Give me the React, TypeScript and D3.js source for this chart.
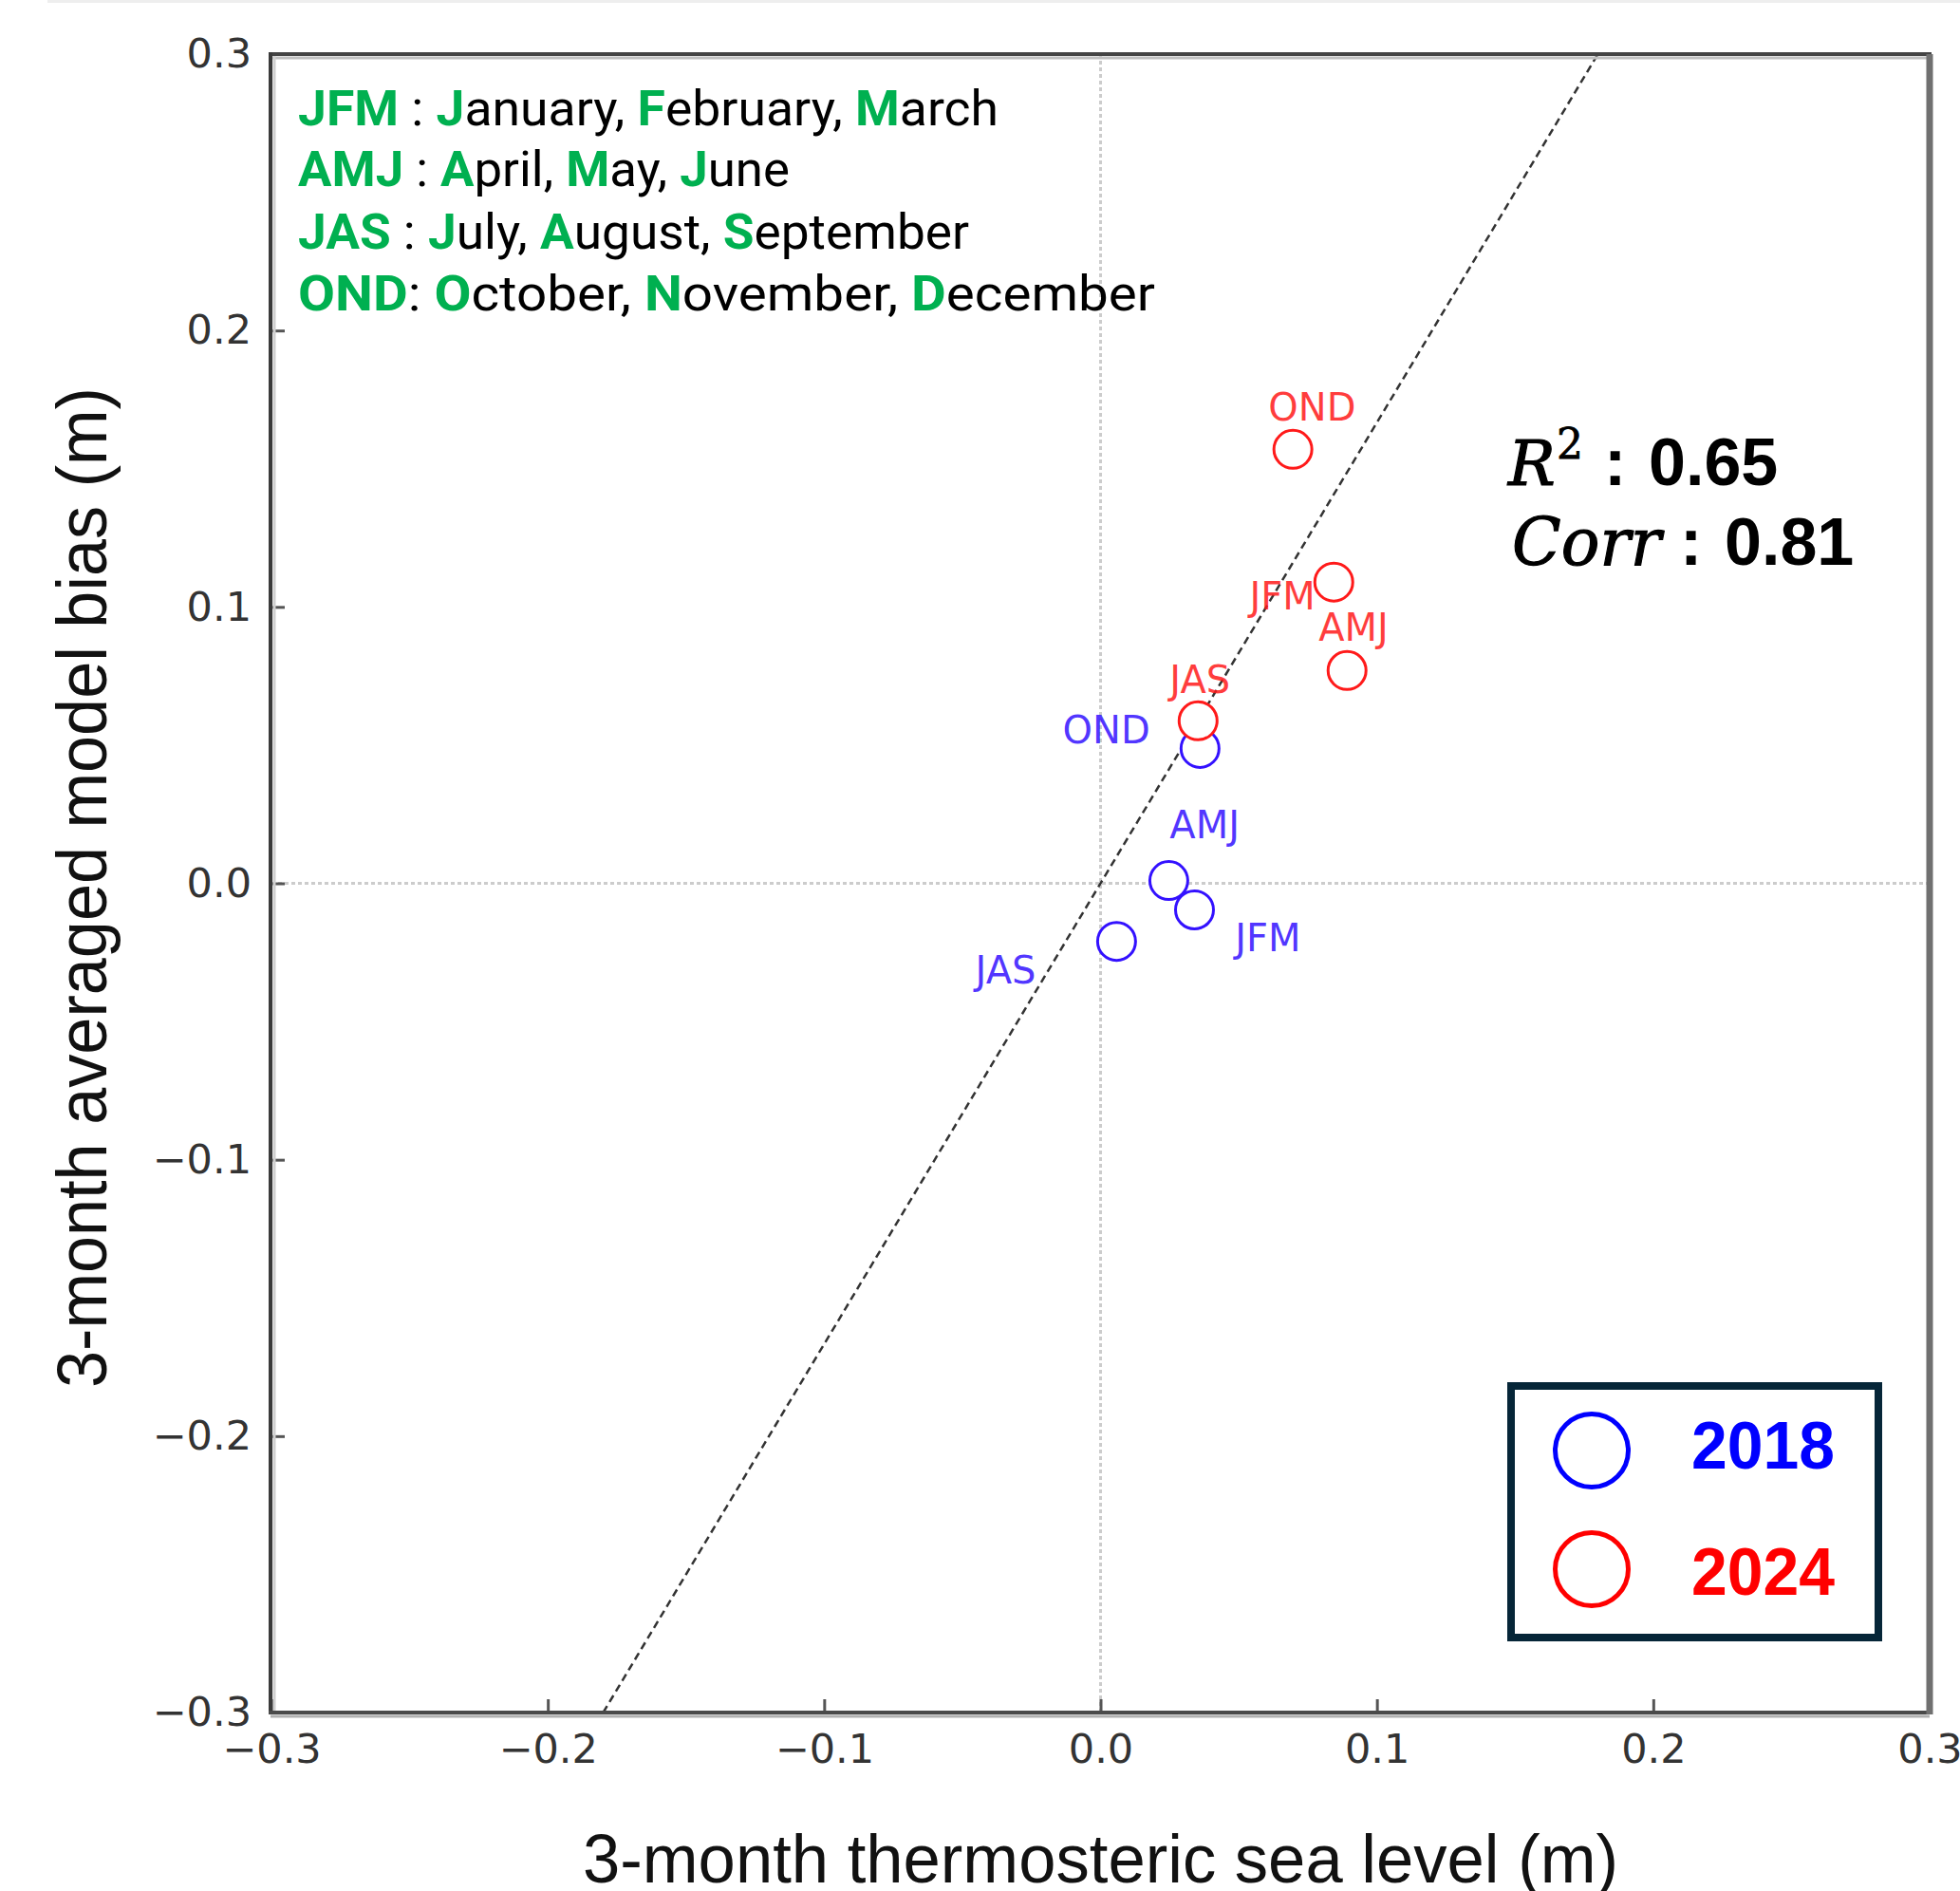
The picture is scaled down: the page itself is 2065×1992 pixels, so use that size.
import React, { useEffect, useRef } from "react";
import * as d3 from "d3";

const W = 2065;
const H = 1992;

const xTicks = [-0.3, -0.2, -0.1, 0.0, 0.1, 0.2, 0.3];
const yTicks = [-0.3, -0.2, -0.1, 0.0, 0.1, 0.2, 0.3];

const seasons = ["JFM", "AMJ", "JAS", "OND"];
// 2018
const thermo2018 = [0.034, 0.0247, 0.0058, 0.036];
const bias2018 = [-0.0096, 0.001, -0.021, 0.0488];
const labelX2018 = [0.0487, 0.025, -0.0453, -0.0137];
const labelY2018 = [-0.0247, 0.0162, -0.0361, 0.0505];
// 2024
const thermo2024 = [0.0844, 0.0892, 0.0353, 0.0696];
const bias2024 = [0.109, 0.077, 0.0588, 0.157];
const labelX2024 = [0.0539, 0.0789, 0.025, 0.0607];
const labelY2024 = [0.099, 0.0876, 0.0687, 0.1674];

const fitSlope = 1.667;
const fitIntercept = 0;
const r2Text = "0.65";
const corrText = "0.81";

const years = ["2018", "2024"];
const yearColors = ["#0000ff", "#ff0000"];
const pointColors = ["#3311ff", "#ff1a1a"];

const legendSeps = [" : ", " : ", " : ", ": "];
const legendMonths = [
  ["January", "February", "March"],
  ["April", "May", "June"],
  ["July", "August", "September"],
  ["October", "November", "December"],
];
const legendWidths = [738, 518, 707, 903];

const GREEN = "#00b050";

export default function App() {
  const ref = useRef<SVGSVGElement | null>(null);

  useEffect(() => {
    const svg = d3.select(ref.current);
    svg.selectAll("*").remove();

    const x = d3.scaleLinear().domain([-0.3, 0.3]).range([286, 2033]);
    const y = d3.scaleLinear().domain([-0.3, 0.3]).range([1804, 57]);

    svg.append("rect").attr("x", 0).attr("y", 0).attr("width", W).attr("height", H).attr("fill", "#fff");
    svg.append("rect").attr("x", 50).attr("y", 0).attr("width", W - 50).attr("height", 3).attr("fill", "#eeeeee");

    // zero lines
    svg.append("line")
      .attr("x1", x(-0.3)).attr("x2", x(0.3)).attr("y1", y(0)).attr("y2", y(0))
      .attr("stroke", "#cccccc").attr("stroke-width", 3).attr("stroke-dasharray", "4,3");
    svg.append("line")
      .attr("x1", x(0)).attr("x2", x(0)).attr("y1", y(-0.3)).attr("y2", y(0.3))
      .attr("stroke", "#cccccc").attr("stroke-width", 3).attr("stroke-dasharray", "4,3");

    // regression line
    const xa = (-0.3 - fitIntercept) / fitSlope;
    const xb = (0.3 - fitIntercept) / fitSlope;
    const fit = d3.line<number>().x((d) => x(d)).y((d) => y(fitSlope * d + fitIntercept));
    svg.append("path").attr("d", fit([xa, xb]) as string)
      .attr("fill", "none").attr("stroke", "#333").attr("stroke-width", 2.5).attr("stroke-dasharray", "8,5");

    // axes
    const fmt = d3.format(".1f");
    const gx = svg.append("g").attr("transform", `translate(0,${y(-0.3)})`)
      .call(d3.axisBottom(x).tickValues(xTicks).tickFormat((d) => fmt(d as number)).tickSize(-14).tickPadding(22));
    gx.select(".domain").remove();
    gx.selectAll(".tick line").attr("stroke", "#555").attr("stroke-width", 3);
    gx.selectAll(".tick text").attr("font-family", "DejaVu Sans").attr("font-size", 43).attr("fill", "#333");

    const gy = svg.append("g").attr("transform", `translate(${x(-0.3)},0)`)
      .call(d3.axisLeft(y).tickValues(yTicks).tickFormat((d) => fmt(d as number)).tickSize(-14).tickPadding(21));
    gy.select(".domain").remove();
    gy.selectAll(".tick line").attr("stroke", "#555").attr("stroke-width", 3);
    gy.selectAll(".tick text").attr("font-family", "DejaVu Sans").attr("font-size", 43).attr("fill", "#333");

    // points
    const series = [
      { xs: thermo2018, ys: bias2018, lx: labelX2018, ly: labelY2018 },
      { xs: thermo2024, ys: bias2024, lx: labelX2024, ly: labelY2024 },
    ];
    series.forEach((s, si) => {
      const g = svg.append("g");
      g.selectAll("circle").data(seasons).join("circle")
        .attr("cx", (_d, i) => x(s.xs[i])).attr("cy", (_d, i) => y(s.ys[i]))
        .attr("r", 20).attr("fill", "#fff").attr("stroke", pointColors[si]).attr("stroke-width", 3);
    });
    series.forEach((s, si) => {
      const g = svg.append("g");
      g.selectAll("text").data(seasons).join("text")
        .attr("x", (_d, i) => x(s.lx[i])).attr("y", (_d, i) => y(s.ly[i]))
        .attr("font-family", "DejaVu Sans").attr("font-size", 40)
        .attr("fill", pointColors[si]).attr("fill-opacity", 0.85)
        .text((d) => d);
    });

    // season legend text
    const baselines = [132, 196, 262, 327];
    seasons.forEach((code, i) => {
      const t = svg.append("text").attr("x", 314).attr("y", baselines[i])
        .attr("font-family", "Roboto").attr("font-size", 52)
        .attr("textLength", legendWidths[i]).attr("lengthAdjust", "spacingAndGlyphs");
      t.append("tspan").attr("fill", GREEN).attr("font-weight", "bold").text(code);
      t.append("tspan").attr("fill", "#000").text(legendSeps[i]);
      legendMonths[i].forEach((m, j) => {
        t.append("tspan").attr("fill", GREEN).attr("font-weight", "bold").text(m[0]);
        t.append("tspan").attr("fill", "#000").text(m.slice(1) + (j < legendMonths[i].length - 1 ? ", " : ""));
      });
    });

    // stats
    const serif = "DejaVu Serif";
    const sans = "Liberation Sans";
    svg.append("text").attr("x", 1589).attr("y", 511).attr("font-family", serif).attr("font-style", "italic")
      .attr("font-size", 66).attr("fill", "#000").attr("stroke", "#000").attr("stroke-width", 1.2).text("R");
    svg.append("text").attr("x", 1640).attr("y", 483).attr("font-family", serif)
      .attr("font-size", 44).attr("fill", "#000").attr("stroke", "#000").attr("stroke-width", 0.8).text("2");
    svg.append("text").attr("x", 1690).attr("y", 511).attr("font-family", sans).attr("font-weight", "bold")
      .attr("font-size", 70).attr("fill", "#000").text(":");
    svg.append("text").attr("x", 1737).attr("y", 511).attr("font-family", sans).attr("font-weight", "bold")
      .attr("font-size", 70).attr("fill", "#000").text(r2Text);
    svg.append("text").attr("x", 1593).attr("y", 595).attr("font-family", serif).attr("font-style", "italic")
      .attr("font-size", 70).attr("fill", "#000").attr("stroke", "#000").attr("stroke-width", 1.2)
      .attr("textLength", 157).attr("lengthAdjust", "spacingAndGlyphs").text("Corr");
    svg.append("text").attr("x", 1770).attr("y", 595).attr("font-family", sans).attr("font-weight", "bold")
      .attr("font-size", 70).attr("fill", "#000").text(":");
    svg.append("text").attr("x", 1817).attr("y", 595).attr("font-family", sans).attr("font-weight", "bold")
      .attr("font-size", 70).attr("fill", "#000").text(corrText);

    // year legend
    svg.append("rect").attr("x", 1592).attr("y", 1460).attr("width", 387).attr("height", 265)
      .attr("fill", "#fff").attr("stroke", "#062638").attr("stroke-width", 8);
    const legY = [1528, 1653];
    const legTextY = [1547, 1680];
    years.forEach((yr, i) => {
      svg.append("circle").attr("cx", 1677).attr("cy", legY[i]).attr("r", 38.5)
        .attr("fill", "none").attr("stroke", yearColors[i]).attr("stroke-width", 5);
      svg.append("text").attr("x", 1782).attr("y", legTextY[i]).attr("font-family", sans)
        .attr("font-weight", "bold").attr("font-size", 70).attr("fill", yearColors[i])
        .attr("textLength", 151).attr("lengthAdjust", "spacingAndGlyphs").text(yr);
    });

    // frame
    const fx0 = 285, fx1 = 2033, fy0 = 57, fy1 = 1804;
    svg.append("line").attr("x1", fx0 + 2).attr("x2", fx1).attr("y1", fy0 + 4).attr("y2", fy0 + 4).attr("stroke", "#c0c0c0").attr("stroke-width", 3);
    svg.append("line").attr("x1", fx0 + 4).attr("x2", fx0 + 4).attr("y1", fy0).attr("y2", fy1).attr("stroke", "#d0d0d0").attr("stroke-width", 3);
    svg.append("line").attr("x1", fx0).attr("x2", fx1).attr("y1", fy1 + 4).attr("y2", fy1 + 4).attr("stroke", "#b0b0b0").attr("stroke-width", 3);
    svg.append("line").attr("x1", fx0 - 2).attr("x2", fx1 + 2).attr("y1", fy0).attr("y2", fy0).attr("stroke", "#444").attr("stroke-width", 4);
    svg.append("line").attr("x1", fx0).attr("x2", fx0).attr("y1", fy0 - 2).attr("y2", fy1 + 2).attr("stroke", "#3a3a3a").attr("stroke-width", 4);
    svg.append("line").attr("x1", fx0 - 2).attr("x2", fx1 + 2).attr("y1", fy1).attr("y2", fy1).attr("stroke", "#4a4a4a").attr("stroke-width", 4);
    svg.append("line").attr("x1", fx1).attr("x2", fx1).attr("y1", fy0).attr("y2", fy1 + 2).attr("stroke", "#707070").attr("stroke-width", 7);

    // axis labels
    svg.append("text").attr("x", 1159.5).attr("y", 1983).attr("text-anchor", "middle")
      .attr("font-family", sans).attr("font-size", 72).attr("fill", "#111")
      .attr("textLength", 1091).attr("lengthAdjust", "spacingAndGlyphs")
      .text("3-month thermosteric sea level (m)");
    svg.append("text").attr("transform", "translate(112,935) rotate(-90)").attr("text-anchor", "middle")
      .attr("font-family", sans).attr("font-size", 74).attr("fill", "#111")
      .attr("textLength", 1054).attr("lengthAdjust", "spacingAndGlyphs")
      .text("3-month averaged model bias (m)");
  }, []);

  return (
    <svg
      ref={ref}
      width={W}
      height={H}
      viewBox={`0 0 ${W} ${H}`}
      style={{ position: "absolute", left: 0, top: 0, display: "block" }}
    />
  );
}
